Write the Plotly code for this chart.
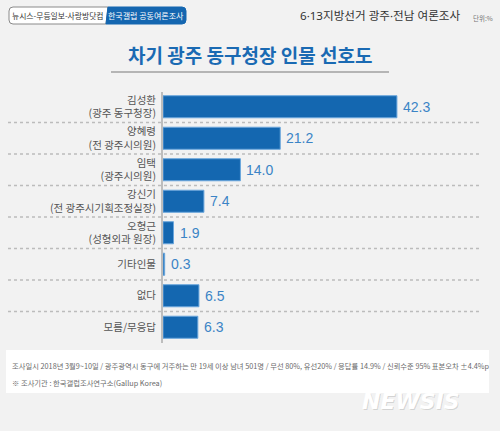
import plotly.graph_objects as go

names = ["김성환", "양혜령", "임택", "강신기", "오형근", "기타인물", "없다", "모름/무응답"]
roles = ["(광주 동구청장)", "(전 광주시의원)", "(광주시의원)", "(전 광주시기획조정실장)", "(성형외과 원장)", "", "", ""]
values = [42.3, 21.2, 14.0, 7.4, 1.9, 0.3, 6.5, 6.3]

title_text = "차기 광주 동구청장 인물 선호도"
header_right = "6·13지방선거 광주·전남 여론조사"
unit_text = "단위:%"
badge_left = "뉴시스-무등일보-사랑방닷컴"
badge_right = "한국갤럽 공동여론조사"
footer1 = "조사일시 2018년 3월9~10일 / 광주광역시 동구에 거주하는 만 19세 이상 남녀 501명 / 무선 80%, 유선20% / 응답률 14.9% / 신뢰수준 95% 표본오차 ±4.4%p"
footer2 = "※ 조사기관 : 한국갤럽조사연구소(Gallup Korea)"

W, H = 500, 431
ML, MR, MT, MB = 163, 18, 91, 88
PW, PH = W - ML - MR, H - MT - MB
XMAX = PW / 5.53

def px(x):
    return (x - ML) / PW

def py(y):
    return (H - MB - y) / PH

KR = "Noto Sans CJK KR"
labels = [n + ("<br>" + r if r else "") for n, r in zip(names, roles)]
idx = list(range(len(values)))

fig = go.Figure()
fig.add_trace(go.Bar(
    x=values, y=idx, orientation="h",
    marker=dict(color="#1467b0", line=dict(color="#6aa6dc", width=1)),
    hoverinfo="skip",
))

fig.update_layout(
    width=W, height=H,
    margin=dict(l=ML, r=MR, t=MT, b=MB),
    paper_bgcolor="#f2f2f2", plot_bgcolor="rgba(0,0,0,0)",
    bargap=0.3, showlegend=False,
    font=dict(family=KR, color="#555"),
    xaxis=dict(range=[0, XMAX], visible=False, fixedrange=True),
    yaxis=dict(range=[len(values) - 0.5, -0.5], tickmode="array", tickvals=idx, ticktext=labels,
               showgrid=False, zeroline=False, showline=False, ticks="", fixedrange=True,
               ticklabelstandoff=6, tickfont=dict(size=10.5, color="#555", family=KR)),
)

shapes = []
# vertical axis line
shapes.append(dict(type="line", xref="paper", yref="paper", x0=px(162), x1=px(162), y0=py(92), y1=py(343),
                   line=dict(color="#bdbdbd", width=2)))
# dashed separators
for i in range(len(values) - 1):
    shapes.append(dict(type="line", xref="paper", yref="y", x0=px(8), x1=px(482), y0=i + 0.5, y1=i + 0.5,
                       line=dict(color="#bcbcbc", width=1.5, dash="3px,3px"), layer="below"))
# title underline
shapes.append(dict(type="line", xref="paper", yref="paper", x0=px(111), x1=px(389), y0=py(72), y1=py(72),
                   line=dict(color="#a0a0a0", width=1.5)))
# footer box
shapes.append(dict(type="rect", xref="paper", yref="paper", x0=px(6), x1=px(489), y0=py(350), y1=py(393),
                   fillcolor="white", line=dict(width=0), layer="below"))
# badge: white part
shapes.append(dict(type="path", xref="paper", yref="paper",
                   path=f"M {px(108)} {py(7)} L {px(13)} {py(7)} Q {px(9)} {py(7)} {px(9)} {py(11)} "
                        f"L {px(9)} {py(20)} Q {px(9)} {py(24)} {px(13)} {py(24)} L {px(106)} {py(24)} Z",
                   fillcolor="white", line=dict(color="#8a8a8a", width=1)))
# badge: blue part
shapes.append(dict(type="path", xref="paper", yref="paper",
                   path=f"M {px(108)} {py(7)} L {px(182)} {py(7)} Q {px(186)} {py(7)} {px(186)} {py(11)} "
                        f"L {px(186)} {py(20)} Q {px(186)} {py(24)} {px(182)} {py(24)} L {px(106)} {py(24)} Z",
                   fillcolor="#1466b0", line=dict(color="#1466b0", width=1)))
fig.update_layout(shapes=shapes)

ann = []
for i, v in enumerate(values):
    ann.append(dict(x=v, y=i, xref="x", yref="y", text=f"{v:.1f}", showarrow=False, xanchor="left",
                    xshift=4, font=dict(family="Liberation Sans", size=14, color="#3b84c6")))
ann.append(dict(x=px(250), y=py(54), xref="paper", yref="paper", text=f"<b>{title_text}</b>", showarrow=False,
                xanchor="center", yanchor="middle", font=dict(family=KR, size=19, color="#1a6ab3")))
ann.append(dict(x=px(58), y=py(15.5), xref="paper", yref="paper", text=badge_left, showarrow=False,
                xanchor="center", yanchor="middle", font=dict(family=KR, size=7.8, color="#333")))
ann.append(dict(x=px(146), y=py(15.5), xref="paper", yref="paper", text=badge_right, showarrow=False,
                xanchor="center", yanchor="middle", font=dict(family=KR, size=8, color="white")))
ann.append(dict(x=px(462), y=py(16), xref="paper", yref="paper", text=header_right, showarrow=False,
                xanchor="right", yanchor="middle",
                font=dict(family="Noto Sans, Noto Sans CJK KR", size=11.6, color="#333")))
ann.append(dict(x=px(495), y=py(18), xref="paper", yref="paper", text=unit_text, showarrow=False,
                xanchor="right", yanchor="middle", font=dict(family=KR, size=6.5, color="#777")))
ann.append(dict(x=px(10), y=py(366), xref="paper", yref="paper", text=footer1, showarrow=False,
                xanchor="left", yanchor="middle", font=dict(family=KR, size=7.3, color="#6a6a6a")))
ann.append(dict(x=px(10), y=py(383), xref="paper", yref="paper", text=footer2, showarrow=False,
                xanchor="left", yanchor="middle", font=dict(family=KR, size=7.3, color="#6a6a6a")))
ann.append(dict(x=px(412), y=py(402), xref="paper", yref="paper", text="<b><i>NEWSIS</i></b>", showarrow=False,
                xanchor="center", yanchor="middle", font=dict(family="DejaVu Sans", size=22, color="rgba(0,0,0,0.12)")))
ann.append(dict(x=px(411), y=py(401), xref="paper", yref="paper", text="<b><i>NEWSIS</i></b>", showarrow=False,
                xanchor="center", yanchor="middle", font=dict(family="DejaVu Sans", size=22, color="white")))
fig.update_layout(annotations=ann)

fig.write_html("out.html", config={"displayModeBar": False},
               post_script="document.body.style.margin='0';")
